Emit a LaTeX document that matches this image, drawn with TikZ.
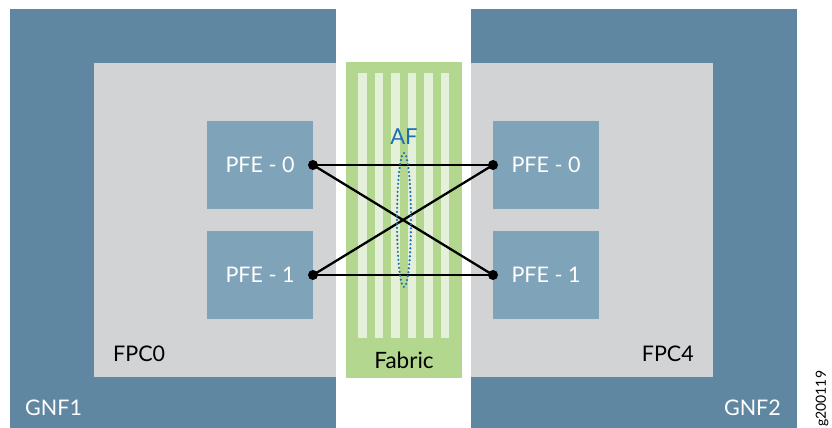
\documentclass[tikz,border=0pt]{standalone}
\usetikzlibrary{shapes.geometric}
\usepackage{fontspec}
\setmainfont{Lato}
\definecolor{gnf}{HTML}{5F87A1}
\definecolor{fpc}{HTML}{D2D3D5}
\definecolor{pfe}{HTML}{7FA3B8}
\definecolor{fab}{HTML}{B3D78E}
\definecolor{stripe}{HTML}{E4F0D9}
\definecolor{afblue}{HTML}{1B6FB2}
\begin{document}
\begin{tikzpicture}[x=1pt,y=-1pt,
  box/.style={draw=none,inner sep=0pt,outer sep=0pt,anchor=north west},
  pfebox/.style={box,fill=pfe,minimum width=106pt,minimum height=88pt,text=white,font=\fontsize{21.5}{21.5}\selectfont,anchor=center},
  lab/.style={inner sep=0pt,font=\fontsize{21.5}{21.5}\selectfont},
  link/.style={line width=2.3pt,black},
  dotm/.style={fill=black,draw=none}]
\useasboundingbox (0,0) rectangle (832,428);
\fill[white] (0,0) rectangle (832,428);
% GNF boxes
\node[box,fill=gnf,minimum width=326pt,minimum height=419pt] (gnf1) at (10,9) {};
\node[box,fill=gnf,minimum width=326pt,minimum height=419pt] (gnf2) at (471,9) {};
% FPC boxes
\node[box,fill=fpc,minimum width=242pt,minimum height=314pt] (fpc0) at (94,63) {};
\node[box,fill=fpc,minimum width=242pt,minimum height=314pt] (fpc4) at (471,63) {};
% Fabric
\node[box,fill=fab,minimum width=116pt,minimum height=316pt] (fab) at (346,62) {};
\foreach \sx in {358,374.5,391,407.5,424,440.5}
  \fill[stripe] (\sx,73) rectangle ++(8.5,265);
% PFE boxes
\node[pfebox] (l0) at (260,165) {PFE - 0};
\node[pfebox] (l1) at (260,275) {PFE - 1};
\node[pfebox] (r0) at (546,165) {PFE - 0};
\node[pfebox] (r1) at (546,275) {PFE - 1};
% links
\draw[link] (l0.east) -- (r0.west);
\draw[link] (l1.east) -- (r1.west);
\draw[link] (l0.east) -- (r1.west);
\draw[link] (l1.east) -- (r0.west);
\foreach \n in {l0.east,l1.east,r0.west,r1.west}
  \fill[dotm] (\n) circle (5);
% AF ellipse
\node[draw=afblue,line width=2.4pt,dash pattern=on 0pt off 4pt,line cap=round,ellipse,inner sep=0pt,minimum width=14pt,minimum height=134pt] (af) at (404,220) {};
\node[lab,text=afblue,font=\fontsize{22}{22}\selectfont] (aft) at (404,137) {AF};
% labels
\node[lab,text=black,font=\fontsize{22.5}{22.5}\selectfont] (fabt) at (404,360) {Fabric};
\node[lab,text=black,anchor=west] (fpc0t) at (113,354) {FPC0};
\node[lab,text=black,anchor=east] (fpc4t) at (694,354) {FPC4};
\node[lab,text=white,anchor=west] (gnf1t) at (25,408) {GNF1};
\node[lab,text=white,anchor=east] (gnf2t) at (781,408) {GNF2};
\node[inner sep=0pt,rotate=90,font=\fontsize{14}{14}\selectfont,anchor=west] (code) at (822,427) {g200119};
\end{tikzpicture}
\end{document}
